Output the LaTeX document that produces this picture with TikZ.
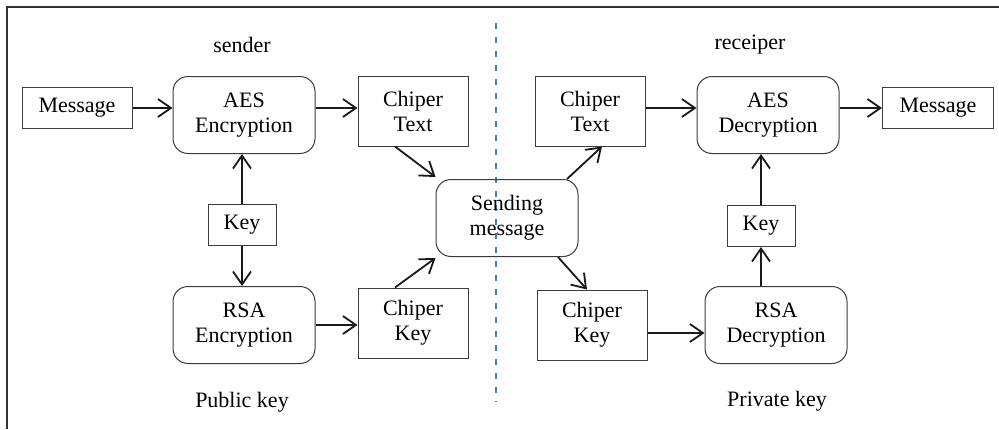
\documentclass[tikz,border=0pt]{standalone}
\usepackage{fontspec}
\setmainfont{Liberation Serif}
\usetikzlibrary{arrows.meta,calc}
\definecolor{boxline}{RGB}{60,60,60}
\definecolor{sepblue}{RGB}{70,125,195}
\begin{document}
\begin{tikzpicture}[x=1pt,y=-1pt,
  every node/.style={font=\fontsize{22}{25}\selectfont, inner sep=0pt, align=center},
  sqbox/.style={draw=boxline, line width=1pt, rectangle},
  rndbox/.style={draw=boxline, line width=1pt, rectangle, rounded corners=15pt, minimum width=142pt, minimum height=77pt},
  conn/.style={draw=black!90, line width=1.8pt, -{Straight Barb[length=13pt,width=18pt,line width=1.8pt]}},
  lbl/.style={font=\fontsize{22}{25}\selectfont}
]
\useasboundingbox (0,0) rectangle (999,429);
\fill[white] (0,0) rectangle (999,429);
% frame (top and left)
\draw[draw=black!80, line width=2pt] (999,7) -- (7,7) -- (7,429);
% separator
\draw[sepblue, line width=1.6pt, dash pattern=on 6pt off 8pt] (496,23) -- (496,402);

% labels
\node[lbl] (sender) at (242,45) {sender};
\node[lbl] (receiper) at (750,45) {receiper};
\node[lbl] (pub) at (242,402) {Public key};
\node[lbl] (priv) at (777,401) {Private key};

% sender side
\node[sqbox, minimum width=110pt, minimum height=41pt] (msgl) at (77,108) {Message};
\node[rndbox] (aese) at (244,115) {AES\\Encryption};
\node[sqbox, minimum width=110pt, minimum height=70pt] (ctl) at (413,111) {Chiper\\Text};
\node[sqbox, minimum width=68pt, minimum height=41pt] (keyl) at (242,225) {Key};
\node[rndbox] (rsae) at (244,325) {RSA\\Encryption};
\node[sqbox, minimum width=110pt, minimum height=70pt] (ckl) at (413,323) {Chiper\\Key};

% middle
\node[rndbox] (send) at (507,218) {Sending\\message};

% receiver side
\node[sqbox, minimum width=110pt, minimum height=70pt] (ctr) at (590,111) {Chiper\\Text};
\node[rndbox] (aesd) at (768,115) {AES\\Decryption};
\node[sqbox, minimum width=111pt, minimum height=41pt] (msgr) at (938,108) {Message};
\node[sqbox, minimum width=68pt, minimum height=41pt] (keyr) at (761,226) {Key};
\node[rndbox] (rsad) at (776,325) {RSA\\Decryption};
\node[sqbox, minimum width=110pt, minimum height=70pt] (ckr) at (592,325) {Chiper\\Key};

% helper points
\coordinate (ctlout) at ($(ctl.south)+(-18,0)$);
\coordinate (sendin1) at ($(send.north west)+(0,-2)$);
\coordinate (cklout) at ($(ckl.north)+(-18,0)$);
\coordinate (sendin2) at ($(send.south west)+(0,1)$);
\coordinate (sendout1) at ($(send.north)+(60,0)$);
\coordinate (ctrin) at ($(ctr.south)+(12,0)$);
\coordinate (sendout2) at ($(send.south)+(51,0)$);
\coordinate (ckrin) at ($(ckr.north)+(-5,0)$);
\coordinate (ckrout) at ($(ckr.east)+(0,8)$);

% connectors
\draw[conn] (msgl.east) -- (msgl.east -| aese.west);
\draw[conn] (aese.east |- msgl.east) -- (ctl.west |- msgl.east);
\draw[conn] (keyl.north) -- (keyl.north |- aese.south);
\draw[conn] (keyl.south) -- (keyl.south |- rsae.north);
\draw[conn] (rsae.east) -- (rsae.east -| ckl.west);
\draw[conn] (ctlout) -- (sendin1);
\draw[conn] (cklout) -- (sendin2);
\draw[conn] (sendout1) -- (ctrin);
\draw[conn] (sendout2) -- (ckrin);
\draw[conn] (ctr.east |- msgr.west) -- (aesd.west |- msgr.west);
\draw[conn] (aesd.east |- msgr.west) -- (msgr.west);
\draw[conn] (keyr.north) -- (keyr.north |- aesd.south);
\draw[conn] (keyr.south |- rsad.north) -- (keyr.south);
\draw[conn] (ckrout) -- (ckrout -| rsad.west);
\end{tikzpicture}
\end{document}
